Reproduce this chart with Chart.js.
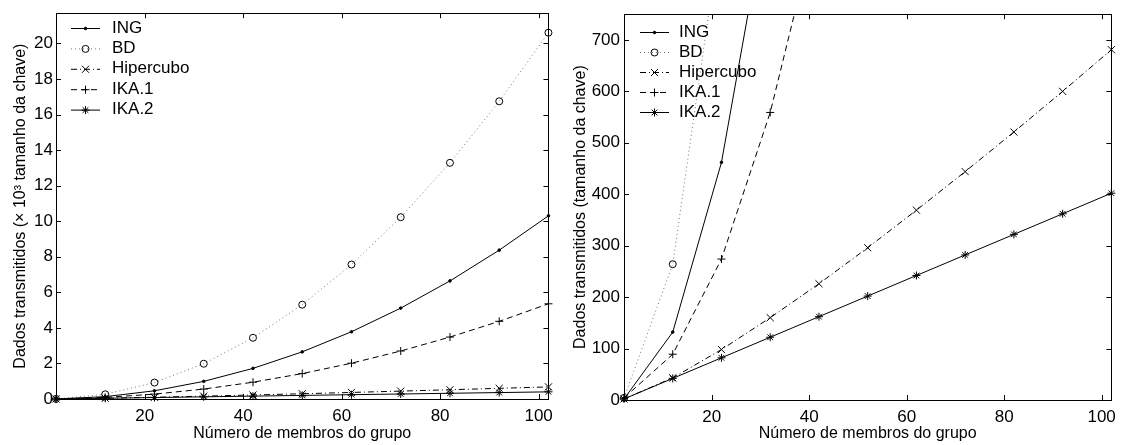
<!DOCTYPE html>
<html lang="pt">
<head>
    <meta charset="UTF-8">
    <title>Dados transmitidos</title>
    <script src="https://cdn.jsdelivr.net/npm/chart.js"></script>
    <style>
        body {
            margin: 0;
            background-color: #fff;
            width: 1123px;
            height: 445px;
            overflow: hidden;
            position: relative;
        }

        .box {
            position: absolute;
            top: 0;
            height: 445px;
        }

        #left { left: 0; width: 560px; }
        #right { left: 560px; width: 563px; }
    </style>
</head>
<body>
    <div class="box" id="left"><canvas id="chartLeft"></canvas></div>
    <div class="box" id="right"><canvas id="chartRight"></canvas></div>

    <script>
        // Número de membros do grupo
        const membros = [2, 12, 22, 32, 42, 52, 62, 72, 82, 92, 102];

        // Dados transmitidos (tamanho da chave)
        const ing = [2, 132, 462, 992, 1722, 2652, 3782, 5112, 6642, 8372, 10302];
        const bd = [4, 264, 924, 1984, 3444, 5304, 7564, 10224, 13284, 16744, 20604];
        const hipercubo = [2, 43, 98, 160, 226, 296, 369, 444, 521, 600, 681];
        const ika1 = [4, 89, 274, 559, 944, 1429, 2014, 2699, 3484, 4369, 5354];
        const ika2 = [2, 42, 82, 122, 162, 202, 242, 282, 322, 362, 402];

        const xTicks = [20, 40, 60, 80, 100];
        const yTicksLeft = [0, 2, 4, 6, 8, 10, 12, 14, 16, 18, 20];
        const yTicksRight = [0, 100, 200, 300, 400, 500, 600, 700];

        const FONT = '"Liberation Sans", Arial, Helvetica, sans-serif';

        const series = [
            { label: 'ING', values: ing, color: '#000', dash: [], point: 'circle', radius: 1.3, fill: '#000' },
            { label: 'BD', values: bd, color: '#777', dash: [1, 3], point: 'circle', radius: 3.5, fill: 'rgba(0,0,0,0)' },
            { label: 'Hipercubo', values: hipercubo, color: '#000', dash: [6, 3, 1, 3], point: 'crossRot', radius: 5, fill: 'rgba(0,0,0,0)' },
            { label: 'IKA.1', values: ika1, color: '#000', dash: [6, 4], point: 'cross', radius: 4, fill: 'rgba(0,0,0,0)' },
            { label: 'IKA.2', values: ika2, color: '#000', dash: [], point: 'star', radius: 4, fill: 'rgba(0,0,0,0)' }
        ];

        function buildDatasets(scale) {
            return series.map(s => ({
                label: s.label,
                data: membros.map((n, i) => ({ x: n, y: s.values[i] / scale })),
                borderColor: s.color,
                borderWidth: 1,
                borderDash: s.dash,
                pointStyle: s.point,
                pointRadius: s.radius,
                pointBorderColor: '#000',
                pointBackgroundColor: s.fill,
                pointBorderWidth: 1,
                tension: 0,
                clip: { left: 10, right: 10, top: 0, bottom: 10 }
            }));
        }

        // caixa e marcas internas estilo Matlab
        const boxPlugin = {
            id: 'matlabBox',
            afterDraw(chart) {
                const ctx = chart.ctx;
                const a = chart.chartArea;
                const xs = chart.scales.x, ys = chart.scales.y;
                const len = 5;
                ctx.save();
                ctx.strokeStyle = '#000';
                ctx.lineWidth = 1;
                ctx.setLineDash([]);
                ctx.strokeRect(Math.round(a.left) + 0.5, Math.round(a.top) + 0.5,
                    Math.round(a.right - a.left), Math.round(a.bottom - a.top));
                ctx.beginPath();
                xs.ticks.forEach(t => {
                    const px = Math.round(xs.getPixelForValue(t.value)) + 0.5;
                    ctx.moveTo(px, a.bottom); ctx.lineTo(px, a.bottom - len);
                    ctx.moveTo(px, a.top); ctx.lineTo(px, a.top + len);
                });
                ys.ticks.forEach(t => {
                    const py = Math.round(ys.getPixelForValue(t.value)) + 0.5;
                    ctx.moveTo(a.left, py); ctx.lineTo(a.left + len, py);
                    ctx.moveTo(a.right, py); ctx.lineTo(a.right - len, py);
                });
                ctx.stroke();

                // legenda
                const lg = chart.options.plugins.matlabBox;
                ctx.font = '17px ' + FONT;
                ctx.textBaseline = 'middle';
                ctx.textAlign = 'left';
                chart.data.datasets.forEach((ds, i) => {
                    const y = lg.y + i * lg.dy;
                    ctx.strokeStyle = ds.borderColor;
                    ctx.setLineDash(ds.borderDash);
                    ctx.beginPath();
                    ctx.moveTo(lg.x, y + 0.5);
                    ctx.lineTo(lg.x + lg.len, y + 0.5);
                    ctx.stroke();
                    ctx.setLineDash([]);
                    ctx.strokeStyle = '#000';
                    ctx.fillStyle = ds.pointBackgroundColor;
                    ctx.lineWidth = 1;
                    Chart.helpers.drawPoint(ctx, {
                        pointStyle: ds.pointStyle, rotation: 0,
                        radius: ds.pointRadius, borderWidth: 1
                    }, lg.x + lg.len / 2, y + 0.5);
                    ctx.fillStyle = '#000';
                    ctx.fillText(ds.label, lg.textX, y);
                });
                ctx.restore();
            }
        };

        function makeChart(id, cfg) {
            const ctx = document.getElementById(id).getContext('2d');
            return new Chart(ctx, {
                type: 'line',
                data: { datasets: buildDatasets(cfg.divisor) },
                options: {
                    responsive: true,
                    maintainAspectRatio: false,
                    animation: false,
                    layout: { padding: { top: cfg.top, right: cfg.right, left: 0, bottom: 0 } },
                    plugins: {
                        legend: { display: false },
                        tooltip: { enabled: false },
                        matlabBox: cfg.legend
                    },
                    scales: {
                        x: {
                            type: 'linear',
                            min: 2,
                            max: 102,
                            grid: { display: false, drawTicks: false },
                            border: { display: false },
                            afterBuildTicks: s => { s.ticks = xTicks.map(v => ({ value: v })); },
                            afterFit: s => { s.height = cfg.xHeight; },
                            ticks: {
                                color: '#000',
                                font: { family: FONT, size: 17 },
                                padding: 7,
                                maxRotation: 0
                            },
                            title: {
                                display: true,
                                text: 'Número de membros do grupo',
                                color: '#000',
                                font: { family: FONT, size: 16 },
                                padding: { top: 0, bottom: 2 }
                            }
                        },
                        y: {
                            min: 0,
                            max: cfg.yMax,
                            grid: { display: false, drawTicks: false },
                            border: { display: false },
                            afterBuildTicks: s => { s.ticks = cfg.yTicks.map(v => ({ value: v })); },
                            afterFit: s => { s.width = cfg.yWidth; },
                            ticks: {
                                color: '#000',
                                font: { family: FONT, size: 17 },
                                padding: cfg.yPad
                            },
                            title: {
                                display: true,
                                text: cfg.yTitle,
                                color: '#000',
                                font: { family: FONT, size: 16 },
                                padding: { top: 11, bottom: 0 }
                            }
                        }
                    }
                },
                plugins: [boxPlugin]
            });
        }

        makeChart('chartLeft', {
            divisor: 1000,
            yMax: 21.7,
            yTicks: yTicksLeft,
            yTitle: 'Dados transmitidos (× 10³ tamanho da chave)',
            top: 9, right: 10, xHeight: 46, yWidth: 56, yPad: 3,
            legend: { x: 71, y: 28, dy: 20.4, len: 29, textX: 112 }
        });

        makeChart('chartRight', {
            divisor: 1,
            yMax: 750,
            yTicks: yTicksRight,
            yTitle: 'Dados transmitidos (tamanho da chave)',
            top: 14, right: 9, xHeight: 45, yWidth: 64, yPad: 4,
            legend: { x: 80, y: 32, dy: 20, len: 29, textX: 119 }
        });
    </script>
</body>
</html>
